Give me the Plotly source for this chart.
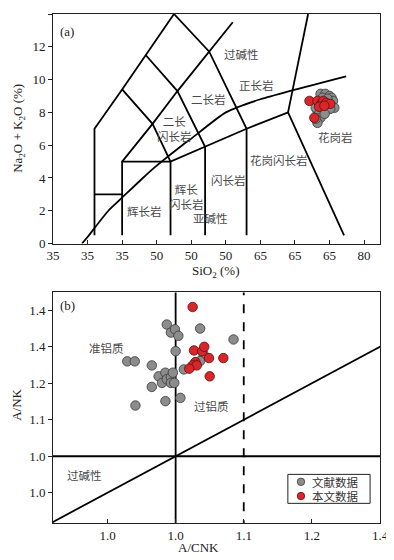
import plotly.graph_objects as go

# (a) TAS 数据: SiO2 (%) 与 Na2O+K2O (%)
tas_si_lit = [73.7, 74.4, 75.0, 75.3, 75.5, 75.7, 75.0, 74.3, 73.25, 73.0, 73.5, 73.7, 73.25, 73.0, 74.0, 74.7, 75.1, 74.3]
tas_alk_lit = [9.13, 9.13, 9.0, 8.89, 8.70, 8.28, 8.22, 8.16, 8.1, 8.28, 7.91, 7.67, 7.36, 7.61, 8.89, 8.83, 8.22, 7.91]
tas_si_this = [72.1, 73.25, 73.8, 74.1, 74.5, 75.1, 73.5, 74.25, 72.8]
tas_alk_this = [8.70, 8.70, 8.52, 8.70, 8.58, 8.52, 8.34, 8.40, 7.67]

# (b) A/CNK - A/NK 数据
acnk_lit = [0.929, 0.940, 0.941, 0.965, 0.965, 0.975, 0.980, 0.985, 0.987, 0.993, 0.993, 0.996, 0.998, 0.985,
            0.987, 0.993, 0.999, 1.004, 1.000, 1.007, 1.012, 1.036, 1.085, 1.041, 1.036]
ank_lit = [1.260, 1.260, 1.139, 1.249, 1.190, 1.219, 1.201, 1.229, 1.211, 1.217, 1.201, 1.229, 1.201, 1.151,
           1.361, 1.339, 1.348, 1.330, 1.288, 1.160, 1.238, 1.350, 1.320, 1.279, 1.261]
acnk_this = [1.025, 1.027, 1.039, 1.042, 1.049, 1.070, 1.029, 1.025, 1.031, 1.020, 1.050]
ank_this = [1.409, 1.290, 1.288, 1.300, 1.269, 1.269, 1.258, 1.249, 1.249, 1.240, 1.219]

# TAS 分区界线 (Cox et al., 1979; Wilson, 1989)
tas_lines = [
    ([41, 41, 45, 48.4, 52.5], [0.5, 7, 9.4, 11.5, 14]),
    ([52.5, 57.6, 63, 63], [14, 11.7, 7, 0.5]),
    ([45, 49.4, 53, 57.6, 61], [5, 7.3, 9.3, 11.7, 13.5]),
    ([41, 45], [3, 3]),
    ([45, 45, 52, 52], [0.5, 5, 5, 0.5]),
    ([45, 49.4, 52, 57, 63, 69, 77.1], [9.4, 7.3, 5, 5.9, 7, 8, 0.5]),
    ([48.4, 53, 57, 57], [11.5, 9.3, 5.9, 0.5]),
    ([69, 71.9], [8, 14]),
]
# Irvine & Baragar (1971) 碱性/亚碱性界线
ib_si = [39.2, 40, 43, 45, 48, 50, 53.7, 55, 60, 65, 77.4]
ib_alk = [0, 0.4, 2, 2.8, 4, 4.75, 6, 6.4, 8, 8.8, 10.2]

tas_names = ['过碱性', '正长岩', '二长岩', '二长<br>闪长岩', '花岗岩', '花岗闪长岩', '闪长岩', '辉长<br>闪长岩', '亚碱性', '辉长岩']
tas_name_x = [62.2, 64.4, 57.5, 52.6, 75.8, 67.7, 60.4, 54.3, 57.8, 48.2]
tas_name_y = [11.56, 9.68, 8.8, 7.0, 6.5, 5.1, 3.9, 2.9, 1.58, 2.0]

acnk_names = ['准铝质', '过铝质', '过碱性']
acnk_name_x = [0.899, 1.053, 0.866]
acnk_name_y = [1.296, 1.137, 0.948]

tas_xticks = [35, 40, 45, 50, 55, 60, 65, 70, 75, 80]
tas_xtext = ['35', '35', '35', '50', '50', '50', '65', '65', '65', '80']
acnk_xticks = [0.9, 1.0, 1.1, 1.2, 1.3]
acnk_xtext = ['1.0', '1.0', '1.1', '1.2', '1.4']
ank_yticks = [0.9, 1.0, 1.1, 1.2, 1.3, 1.4]
ank_ytext = ['1.0', '1.0', '1.1', '1.2', '1.4', '1.4']

legend_names = ['文献数据', '本文数据']

SERIF = 'Liberation Serif, Noto Sans CJK SC'
CJK = 'Noto Sans CJK SC'
GRAY = '#8c8c8c'
RED = '#d8262b'
INK = '#222'

fig = go.Figure()

# (a) 界线
for xs, ys in tas_lines:
    fig.add_trace(go.Scatter(x=xs, y=ys, mode='lines', line=dict(color='black', width=1.8),
                             hoverinfo='skip', xaxis='x', yaxis='y'))
fig.add_trace(go.Scatter(x=ib_si, y=ib_alk, mode='lines', line=dict(color='black', width=1.8, shape='spline', smoothing=0.6),
                         hoverinfo='skip', xaxis='x', yaxis='y'))

mk_lit = dict(size=9.5, color=GRAY, line=dict(color='#3a3a3a', width=0.8))
mk_this = dict(size=9.5, color=RED, line=dict(color='#5a1010', width=0.8))

fig.add_trace(go.Scatter(x=tas_si_lit, y=tas_alk_lit, mode='markers', marker=mk_lit, xaxis='x', yaxis='y'))
fig.add_trace(go.Scatter(x=tas_si_this, y=tas_alk_this, mode='markers', marker=mk_this, xaxis='x', yaxis='y'))

# (b) 界线
b_lines = [
    ([1.0, 1.0], [0.8, 1.5], 'solid'),
    ([0.8, 1.4], [1.0, 1.0], 'solid'),
    ([0.8, 1.4], [0.8, 1.4], 'solid'),
    ([1.1, 1.1], [0.8, 1.5], 'dash'),
]
for xs, ys, dash in b_lines:
    fig.add_trace(go.Scatter(x=xs, y=ys, mode='lines', line=dict(color='black', width=1.8, dash=dash),
                             hoverinfo='skip', xaxis='x2', yaxis='y2'))

fig.add_trace(go.Scatter(x=acnk_lit, y=ank_lit, mode='markers', marker=mk_lit, name=legend_names[0],
                         xaxis='x2', yaxis='y2'))
fig.add_trace(go.Scatter(x=acnk_this, y=ank_this, mode='markers', marker=mk_this, name=legend_names[1],
                         xaxis='x2', yaxis='y2'))

ann = []
for t, x, y in zip(tas_names, tas_name_x, tas_name_y):
    ann.append(dict(x=x, y=y, xref='x', yref='y', text=t, showarrow=False,
                    font=dict(family=CJK, size=11.5, color='#4a4a4a')))
for t, x, y in zip(acnk_names, acnk_name_x, acnk_name_y):
    ann.append(dict(x=x, y=y, xref='x2', yref='y2', text=t, showarrow=False,
                    font=dict(family=CJK, size=11.5, color='#4a4a4a')))

def label(text, x, y, angle=0, xa='center', ya='middle', size=13):
    return dict(x=x, y=y, xref='paper', yref='paper', text=text, showarrow=False, textangle=angle,
                xanchor=xa, yanchor=ya, font=dict(family=SERIF, size=size, color=INK))

ann += [
    label('(a)', 0.016, 0.985, xa='left', ya='top'),
    label('(b)', 0.016, 0.445, xa='left', ya='top'),
    label('SiO<sub>2</sub> (%)', 0.497, 0.494),
    label('A/CNK', 0.445, -0.049),
    label('Na<sub>2</sub>O + K<sub>2</sub>O (%)', -0.106, 0.775, angle=-90),
    label('A/NK', -0.112, 0.233, angle=-90),
]

# 图例 (手工绘制, 紧凑)
ann += [
    dict(x=0.787, y=0.081, xref='paper', yref='paper', text=legend_names[0], showarrow=False,
         xanchor='left', yanchor='middle', font=dict(family=CJK, size=11.5, color='#333')),
    dict(x=0.787, y=0.0529, xref='paper', yref='paper', text=legend_names[1], showarrow=False,
         xanchor='left', yanchor='middle', font=dict(family=CJK, size=11.5, color='#333')),
]
shapes = [
    dict(type='rect', xref='paper', yref='paper', x0=0.7182, x1=0.9697, y0=0.0386, y1=0.0955,
         line=dict(color=INK, width=1), fillcolor='white', layer='above'),
    dict(type='circle', xref='paper', yref='paper', x0=0.747, x1=0.7697, y0=0.0736, y1=0.0883,
         line=dict(color='#3a3a3a', width=0.8), fillcolor=GRAY, layer='above'),
    dict(type='circle', xref='paper', yref='paper', x0=0.747, x1=0.7697, y0=0.0456, y1=0.0603,
         line=dict(color='#5a1010', width=0.8), fillcolor=RED, layer='above'),
]

ax_common = dict(showline=True, linecolor=INK, linewidth=1, mirror=True, showgrid=False, zeroline=False,
                 ticks='outside', ticklen=4, tickcolor=INK, tickfont=dict(family=SERIF, size=13, color=INK))

# 页面 body 有 8px 默认边距, 这里把尺寸和边距相应减小
fig.update_layout(
    width=386, height=552,
    margin=dict(l=45, r=11, t=5, b=37),
    paper_bgcolor='white', plot_bgcolor='white',
    xaxis=dict(ax_common, domain=[0, 1], range=[35, 82.3], tickvals=tas_xticks, ticktext=tas_xtext,
               ticks='inside', anchor='y'),
    yaxis=dict(ax_common, domain=[0.549, 1], range=[0, 14], tickvals=list(range(0, 15, 2)), anchor='x'),
    xaxis2=dict(ax_common, domain=[0, 1], range=[0.82, 1.3], tickvals=acnk_xticks, ticktext=acnk_xtext,
                ticks='inside', anchor='y2'),
    yaxis2=dict(ax_common, domain=[0, 0.453], range=[0.817, 1.449], tickvals=ank_yticks, ticktext=ank_ytext,
                anchor='x2'),
    annotations=ann,
    shapes=shapes,
    showlegend=False,
)

fig.write_html("out.html")
